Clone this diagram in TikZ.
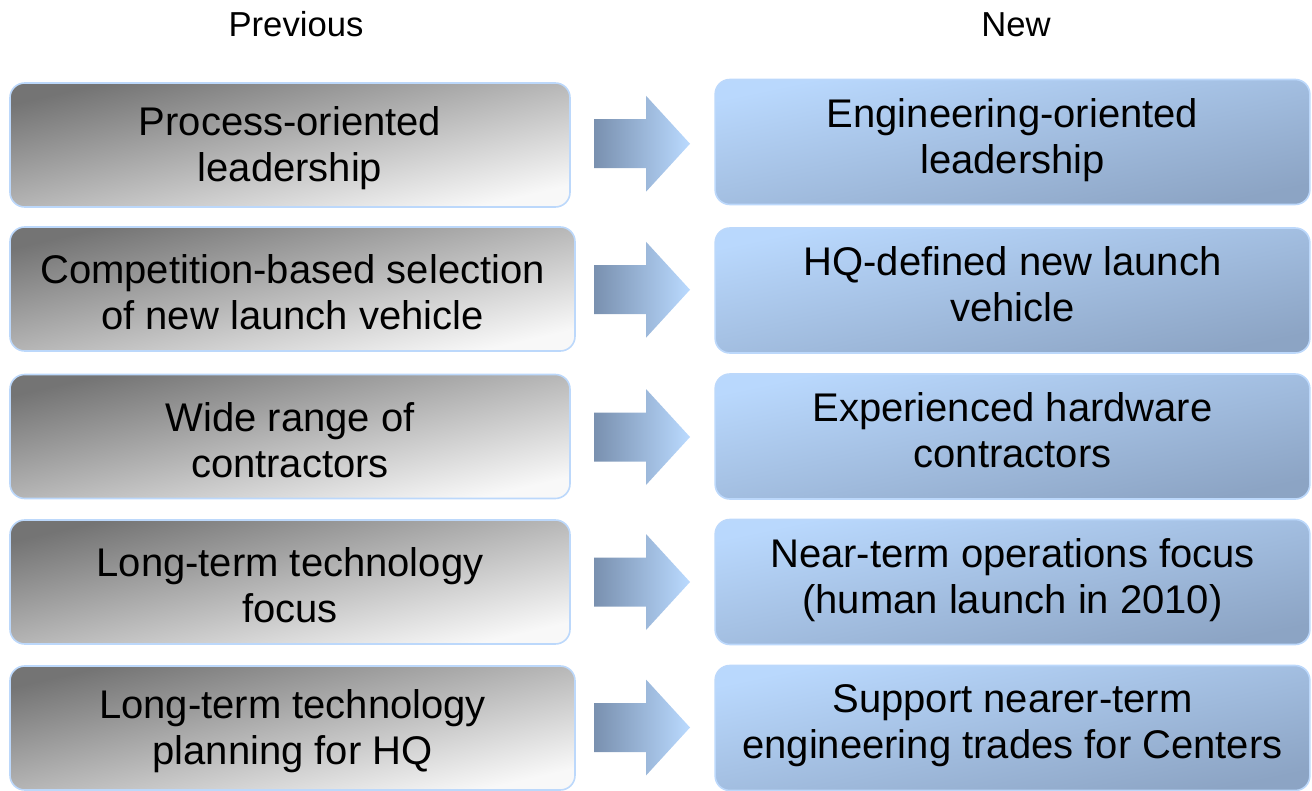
\documentclass[tikz,border=0pt]{standalone}
\usepackage{fontspec}
\setmainfont{Liberation Sans}
\definecolor{gdark}{HTML}{747474}
\definecolor{glight}{HTML}{F8F8F8}
\definecolor{bllight}{HTML}{B9D8FD}
\definecolor{bldark}{HTML}{8CA4C4}
\definecolor{bord}{HTML}{BCD8FB}
\definecolor{arrdark}{HTML}{7990AF}
\definecolor{arrlight}{HTML}{BADAFF}
\newcommand{\topstrut}{\rule{0pt}{27pt}}
\tikzset{
  boxbase/.style={rounded corners=11pt, draw=bord, line width=1.2pt,
    align=center, font=\fontsize{30}{34.5}\selectfont, inner sep=0pt},
  oldbox/.style={boxbase, shading=axis, top color=gdark, bottom color=glight,
    shading angle=13, minimum width=420pt, minimum height=93pt},
  newbox/.style={boxbase, shading=axis, top color=bllight, bottom color=bldark,
    shading angle=12, minimum width=446pt, minimum height=93.75pt,
    execute at end node={\rule[-9pt]{0pt}{0pt}}},
  header/.style={font=\fontsize{26}{30}\selectfont, anchor=base},
  blockarrow/.style={left color=arrdark, right color=arrlight}
}
\newcommand{\blockarr}[1]{%
  \shade[blockarrow] (594,{#1-24.5}) -- (646,{#1-24.5}) -- (646,{#1-48})
    -- (690,#1) -- (646,{#1+48}) -- (646,{#1+24.5}) -- (594,{#1+24.5}) -- cycle;}
\begin{document}
\begin{tikzpicture}[x=0.75pt,y=-0.75pt]
\useasboundingbox (0,0) rectangle (1312,791);
\node[header] (hprev) at (296,37) {Previous};
\node[header] (hnew) at (1016,37) {New};

\node[oldbox] (L1) at (290,145) {\topstrut Process-oriented\\leadership};
\node[oldbox, minimum width=423.75pt] (L2) at (292.5,289) {\topstrut Competition-based selection\\of new launch vehicle};
\node[oldbox] (L3) at (290,436.5) {\topstrut Wide range of\\contractors};
\node[oldbox] (L4) at (290,582) {\topstrut Long-term technology\\focus};
\node[oldbox, minimum width=423.75pt] (L5) at (292.5,728) {\topstrut Long-term technology\\planning for HQ};

\node[newbox] (R1) at (1012.5,142) {Engineering-oriented\\leadership};
\node[newbox] (R2) at (1012.5,290.5) {HQ-defined new launch\\vehicle};
\node[newbox] (R3) at (1012.5,436.5) {Experienced hardware\\contractors};
\node[newbox] (R4) at (1012.5,582) {Near-term operations focus\\(human launch in 2010)};
\node[newbox] (R5) at (1012.5,728) {Support nearer-term\\engineering trades for Centers};

\blockarr{143.75}
\blockarr{289.75}
\blockarr{437}
\blockarr{582}
\blockarr{727.5}
\end{tikzpicture}
\end{document}
